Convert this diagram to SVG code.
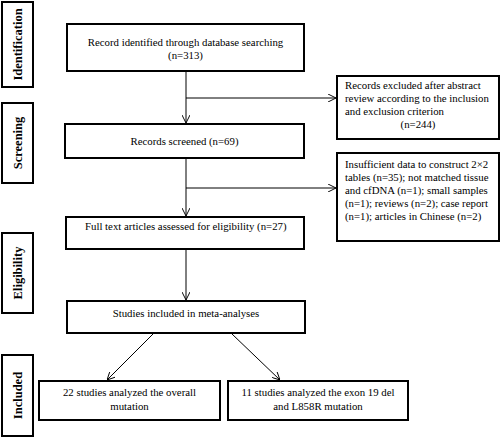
<svg xmlns="http://www.w3.org/2000/svg" width="500" height="437" viewBox="0 0 500 437">
<defs>
<marker id="ah" viewBox="0 0 10 10" refX="10" refY="5" markerWidth="8" markerHeight="8" markerUnits="userSpaceOnUse" orient="auto">
<path d="M0,0 L10,5 L0,10" fill="none" stroke="#000" stroke-width="1.2"/>
</marker>
<style>
.box{fill:#fff;stroke:#000;stroke-width:2}
.t{font-family:"Liberation Serif","Times New Roman",serif;font-size:10.8px;fill:#000}
.side{font-family:"Liberation Serif","Times New Roman",serif;font-size:12.5px;font-weight:bold;fill:#000}
.c{fill:none;stroke:#000;stroke-width:1}
</style>
</defs>
<rect width="500" height="437" fill="#fff"/>
<g id="stage-identification">
<rect class="box" x="2" y="2" width="31" height="85"/>
<text class="side" transform="translate(22,44.5) rotate(-90)" text-anchor="middle">Identification</text>
</g>
<g id="stage-screening">
<rect class="box" x="2" y="103" width="31" height="80"/>
<text class="side" transform="translate(22,143) rotate(-90)" text-anchor="middle">Screening</text>
</g>
<g id="stage-eligibility">
<rect class="box" x="2" y="233" width="31" height="80"/>
<text class="side" transform="translate(22,273) rotate(-90)" text-anchor="middle">Eligibility</text>
</g>
<g id="stage-included">
<rect class="box" x="2" y="355" width="31" height="81"/>
<text class="side" transform="translate(22,395.5) rotate(-90)" text-anchor="middle">Included</text>
</g>
<g id="connectors">
<line class="c" x1="186" y1="71" x2="186" y2="123" marker-end="url(#ah)"/>
<line class="c" x1="186" y1="98" x2="336" y2="98" marker-end="url(#ah)"/>
<line class="c" x1="186" y1="158" x2="186" y2="216" marker-end="url(#ah)"/>
<line class="c" x1="186" y1="188" x2="336" y2="188" marker-end="url(#ah)"/>
<line class="c" x1="186" y1="249" x2="186" y2="300" marker-end="url(#ah)"/>
<line class="c" x1="153" y1="334" x2="107" y2="380" marker-end="url(#ah)"/>
<line class="c" x1="232" y1="334" x2="280" y2="380" marker-end="url(#ah)"/>
</g>
<g id="records-identified">
<rect class="box" x="67" y="24" width="237" height="47"/>
<text class="t" x="185.5" y="45.5" text-anchor="middle">Record identified through database searching</text>
<text class="t" x="185.5" y="58.5" text-anchor="middle">(n=313)</text>
</g>
<g id="records-excluded">
<rect class="box" x="337" y="76" width="162" height="63"/>
<text class="t" x="345" y="89">Records excluded after abstract</text>
<text class="t" x="345" y="102">review according to the inclusion</text>
<text class="t" x="345" y="115">and exclusion criterion</text>
<text class="t" x="418" y="127.5" text-anchor="middle">(n=244)</text>
</g>
<g id="records-screened">
<rect class="box" x="65" y="124" width="239" height="34"/>
<text class="t" x="184.5" y="145" text-anchor="middle">Records screened (n=69)</text>
</g>
<g id="insufficient-data">
<rect class="box" x="337" y="153" width="162" height="88"/>
<text class="t" x="345" y="168">Insufficient data to construct 2×2</text>
<text class="t" x="345" y="181">tables (n=35); not matched tissue</text>
<text class="t" x="345" y="194">and cfDNA (n=1); small samples</text>
<text class="t" x="345" y="207">(n=1); reviews (n=2); case report</text>
<text class="t" x="345" y="220">(n=1); articles in Chinese (n=2)</text>
</g>
<g id="full-text">
<rect class="box" x="66" y="217" width="238" height="32"/>
<text class="t" x="85" y="230">Full text articles assessed for eligibility (n=27)</text>
</g>
<g id="studies-included">
<rect class="box" x="67" y="301" width="238" height="32"/>
<text class="t" x="186" y="316.5" text-anchor="middle">Studies included in meta-analyses</text>
</g>
<g id="overall-mutation">
<rect class="box" x="39" y="381" width="181" height="39"/>
<text class="t" x="129.5" y="396" text-anchor="middle">22 studies analyzed the overall</text>
<text class="t" x="129.5" y="410" text-anchor="middle">mutation</text>
</g>
<g id="exon-mutation">
<rect class="box" x="228" y="381" width="180" height="39"/>
<text class="t" x="318" y="396" text-anchor="middle">11 studies analyzed the exon 19 del</text>
<text class="t" x="318" y="410" text-anchor="middle">and L858R mutation</text>
</g>
</svg>
